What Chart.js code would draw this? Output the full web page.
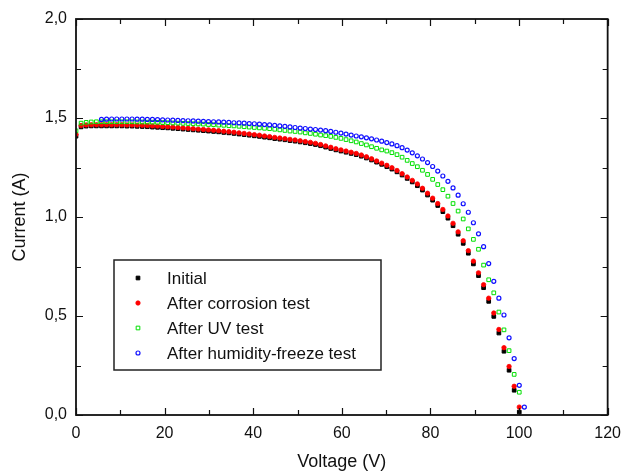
<!DOCTYPE html>
<html lang="en">
<head>
<meta charset="UTF-8">
<title>I-V curves</title>
<script src="https://cdn.jsdelivr.net/npm/chart.js"></script>
<style>
  * { margin: 0; padding: 0; }
  body { background: #fff; }
  #wrap { width: 630px; height: 476px; }
</style>
</head>
<body>
<div id="wrap"><canvas id="chart" width="630" height="476"></canvas></div>
<script>
// voltage grid (V) shared by all four measurements
const voltage = [
  0, 1.15, 2.3, 3.45, 4.6, 5.75, 6.9, 8.05, 9.2, 10.35,
  11.5, 12.65, 13.8, 14.95, 16.1, 17.25, 18.4, 19.55, 20.7, 21.85,
  23.0, 24.15, 25.3, 26.45, 27.6, 28.75, 29.9, 31.05, 32.2, 33.35,
  34.5, 35.65, 36.8, 37.95, 39.1, 40.25, 41.4, 42.55, 43.7, 44.85,
  46.0, 47.15, 48.3, 49.45, 50.6, 51.75, 52.9, 54.05, 55.2, 56.35,
  57.5, 58.65, 59.8, 60.95, 62.1, 63.25, 64.4, 65.55, 66.7, 67.85,
  69.0, 70.15, 71.3, 72.45, 73.6, 74.75, 75.9, 77.05, 78.2, 79.35,
  80.5, 81.65, 82.8, 83.95, 85.1, 86.25, 87.4, 88.55, 89.7, 90.85,
  92.0, 93.15, 94.3, 95.45, 96.6, 97.75, 98.9, 100.05, 101.2
];

// current (A)
const initial = [
  1.408, 1.455, 1.459, 1.460, 1.460, 1.460, 1.460, 1.460, 1.460, 1.460,
  1.459, 1.459, 1.458, 1.457, 1.456, 1.454, 1.453, 1.451, 1.450, 1.448,
  1.446, 1.444, 1.442, 1.440, 1.438, 1.436, 1.434, 1.432, 1.430, 1.427,
  1.425, 1.422, 1.419, 1.416, 1.413, 1.410, 1.407, 1.403, 1.400, 1.396,
  1.393, 1.390, 1.386, 1.383, 1.379, 1.375, 1.371, 1.366, 1.360, 1.353,
  1.346, 1.339, 1.333, 1.327, 1.321, 1.315, 1.307, 1.298, 1.288, 1.277,
  1.266, 1.254, 1.242, 1.228, 1.212, 1.195, 1.177, 1.158, 1.136, 1.111,
  1.085, 1.058, 1.027, 0.994, 0.956, 0.913, 0.867, 0.817, 0.763, 0.704,
  0.643, 0.574, 0.498, 0.414, 0.322, 0.226, 0.125, 0.015, null
];
const corrosion = [
  1.418, 1.462, 1.465, 1.466, 1.466, 1.466, 1.466, 1.466, 1.466, 1.466,
  1.465, 1.465, 1.464, 1.463, 1.462, 1.460, 1.459, 1.457, 1.456, 1.454,
  1.452, 1.450, 1.448, 1.446, 1.444, 1.442, 1.440, 1.438, 1.436, 1.433,
  1.431, 1.428, 1.425, 1.422, 1.419, 1.416, 1.413, 1.409, 1.406, 1.402,
  1.399, 1.396, 1.392, 1.389, 1.385, 1.381, 1.377, 1.372, 1.366, 1.359,
  1.352, 1.345, 1.339, 1.333, 1.327, 1.321, 1.313, 1.304, 1.294, 1.283,
  1.272, 1.261, 1.249, 1.235, 1.219, 1.202, 1.185, 1.167, 1.145, 1.120,
  1.095, 1.068, 1.038, 1.005, 0.968, 0.925, 0.880, 0.830, 0.777, 0.718,
  0.658, 0.590, 0.515, 0.432, 0.340, 0.245, 0.145, 0.040, null
];
const uvTest = [
  1.435, 1.474, 1.478, 1.480, 1.481, 1.481, 1.481, 1.481, 1.481, 1.481,
  1.481, 1.481, 1.480, 1.480, 1.479, 1.479, 1.478, 1.477, 1.476, 1.475,
  1.474, 1.473, 1.472, 1.471, 1.470, 1.469, 1.467, 1.466, 1.464, 1.463,
  1.461, 1.460, 1.458, 1.456, 1.454, 1.452, 1.450, 1.448, 1.446, 1.443,
  1.440, 1.437, 1.434, 1.432, 1.429, 1.425, 1.422, 1.418, 1.414, 1.411,
  1.407, 1.402, 1.397, 1.391, 1.385, 1.379, 1.371, 1.364, 1.355, 1.347,
  1.339, 1.333, 1.325, 1.315, 1.302, 1.286, 1.270, 1.254, 1.236, 1.215,
  1.190, 1.164, 1.138, 1.105, 1.068, 1.030, 0.990, 0.940, 0.887, 0.837,
  0.757, 0.683, 0.617, 0.520, 0.430, 0.325, 0.205, 0.115, null
];
const humidityFreeze = [
  null, null, null, null, null, 1.493, 1.494, 1.495, 1.495, 1.495,
  1.495, 1.495, 1.494, 1.494, 1.493, 1.493, 1.492, 1.491, 1.490, 1.489,
  1.488, 1.487, 1.486, 1.485, 1.484, 1.483, 1.482, 1.481, 1.480, 1.479,
  1.478, 1.476, 1.475, 1.474, 1.472, 1.471, 1.469, 1.467, 1.465, 1.463,
  1.460, 1.458, 1.455, 1.452, 1.449, 1.447, 1.444, 1.442, 1.439, 1.436,
  1.432, 1.428, 1.424, 1.419, 1.414, 1.409, 1.405, 1.400, 1.395, 1.389,
  1.383, 1.376, 1.369, 1.360, 1.350, 1.338, 1.324, 1.309, 1.293, 1.275,
  1.255, 1.232, 1.207, 1.180, 1.147, 1.110, 1.067, 1.024, 0.971, 0.915,
  0.850, 0.765, 0.675, 0.590, 0.505, 0.390, 0.285, 0.150, 0.040
];

const seriesNames = ['Initial', 'After corrosion test', 'After UV test', 'After humidity-freeze test'];

const FONT = '"Liberation Sans", Arial, sans-serif';

function toPoints(ys) {
  return voltage.map((v, i) => ({ x: v, y: ys[i] })).filter(p => p.y !== null);
}

// box frame with inward major/minor ticks on all four sides
const frameTicks = {
  id: 'frameTicks',
  afterDraw(chart) {
    const { ctx, chartArea: a, scales } = chart;
    ctx.save();
    ctx.strokeStyle = '#111';
    ctx.lineWidth = 1.8;
    ctx.strokeRect(a.left, a.top, a.right - a.left, a.bottom - a.top);
    ctx.lineWidth = 1.2;
    ['x', 'y'].forEach(id => {
      const s = scales[id];
      const step = s.options.ticks.stepSize / 2;
      for (let i = 0, v = s.min; v <= s.max + 1e-9; i++, v = s.min + i * step) {
        const len = i % 2 === 0 ? 7 : 5;
        const p = Math.round(s.getPixelForValue(v)) + 0.5;
        ctx.beginPath();
        if (id === 'x') {
          ctx.moveTo(p, a.bottom); ctx.lineTo(p, a.bottom - len);
          ctx.moveTo(p, a.top); ctx.lineTo(p, a.top + len);
        } else {
          ctx.moveTo(a.left, p); ctx.lineTo(a.left + len, p);
          ctx.moveTo(a.right, p); ctx.lineTo(a.right - len, p);
        }
        ctx.stroke();
      }
    });
    ctx.restore();
  }
};

// framed legend inside the plot
const boxLegend = {
  id: 'boxLegend',
  afterDraw(chart, args, o) {
    const ctx = chart.ctx;
    ctx.save();
    ctx.fillStyle = '#fff';
    ctx.fillRect(o.x, o.y, o.w, o.h);
    ctx.strokeStyle = '#222';
    ctx.lineWidth = 1.5;
    ctx.strokeRect(o.x, o.y, o.w, o.h);
    chart.data.datasets.forEach((ds, i) => {
      const cy = o.y + o.firstRow + i * o.rowH;
      const cx = o.x + o.markerX;
      ctx.beginPath();
      if (ds.pointStyle === 'rect') {
        const side = ds.pointRadius * Math.SQRT2;
        ctx.rect(cx - side / 2, cy - side / 2, side, side);
      } else {
        ctx.arc(cx, cy, ds.pointRadius, 0, Math.PI * 2);
      }
      ctx.fillStyle = ds.backgroundColor;
      ctx.fill();
      ctx.lineWidth = ds.borderWidth;
      ctx.strokeStyle = ds.borderColor;
      ctx.stroke();
      ctx.fillStyle = '#111';
      ctx.font = o.font;
      ctx.textBaseline = 'middle';
      ctx.fillText(ds.label, o.x + o.textX, cy + 1);
    });
    ctx.restore();
  }
};

new Chart(document.getElementById('chart').getContext('2d'), {
  type: 'scatter',
  data: {
    datasets: [
      { label: seriesNames[0], data: toPoints(initial), pointStyle: 'rect', pointRadius: 2.6,
        backgroundColor: '#000', borderColor: '#000', borderWidth: 1, order: 4 },
      { label: seriesNames[1], data: toPoints(corrosion), pointStyle: 'circle', pointRadius: 2.2,
        backgroundColor: '#ff0000', borderColor: '#ff0000', borderWidth: 0.8, order: 3 },
      { label: seriesNames[2], data: toPoints(uvTest), pointStyle: 'rect', pointRadius: 2.6,
        backgroundColor: 'rgba(0,0,0,0)', borderColor: '#00e000', borderWidth: 1, order: 2 },
      { label: seriesNames[3], data: toPoints(humidityFreeze), pointStyle: 'circle', pointRadius: 2,
        backgroundColor: 'rgba(0,0,0,0)', borderColor: '#1010ff', borderWidth: 1.2, order: 1 }
    ]
  },
  options: {
    responsive: false,
    animation: false,
    layout: { padding: { top: 19, right: 16, left: 0, bottom: 0 } },
    plugins: {
      legend: { display: false },
      tooltip: { enabled: false },
      boxLegend: { x: 114, y: 260, w: 267, h: 110, firstRow: 18, rowH: 25, markerX: 24, textX: 53,
                   font: '17px ' + FONT }
    },
    scales: {
      x: {
        type: 'linear', min: 0, max: 120,
        afterFit: s => { s.height = 61; },
        grid: { display: false, drawTicks: false },
        border: { display: false },
        ticks: { stepSize: 20, padding: 9, color: '#111', font: { size: 16, family: FONT } },
        title: { display: true, text: 'Voltage (V)', color: '#111', font: { size: 18, family: FONT },
                 padding: { top: 0, bottom: 3 } }
      },
      y: {
        type: 'linear', min: 0, max: 2,
        afterFit: s => { s.width = 76; },
        grid: { display: false, drawTicks: false },
        border: { display: false },
        ticks: { stepSize: 0.5, padding: 9, color: '#111', font: { size: 16, family: FONT },
                 callback: v => v.toFixed(1).replace('.', ',') },
        title: { display: true, text: 'Current (A)', color: '#111', font: { size: 18, family: FONT },
                 padding: { top: 9, bottom: 0 } }
      }
    }
  },
  plugins: [frameTicks, boxLegend]
});
</script>
</body>
</html>
